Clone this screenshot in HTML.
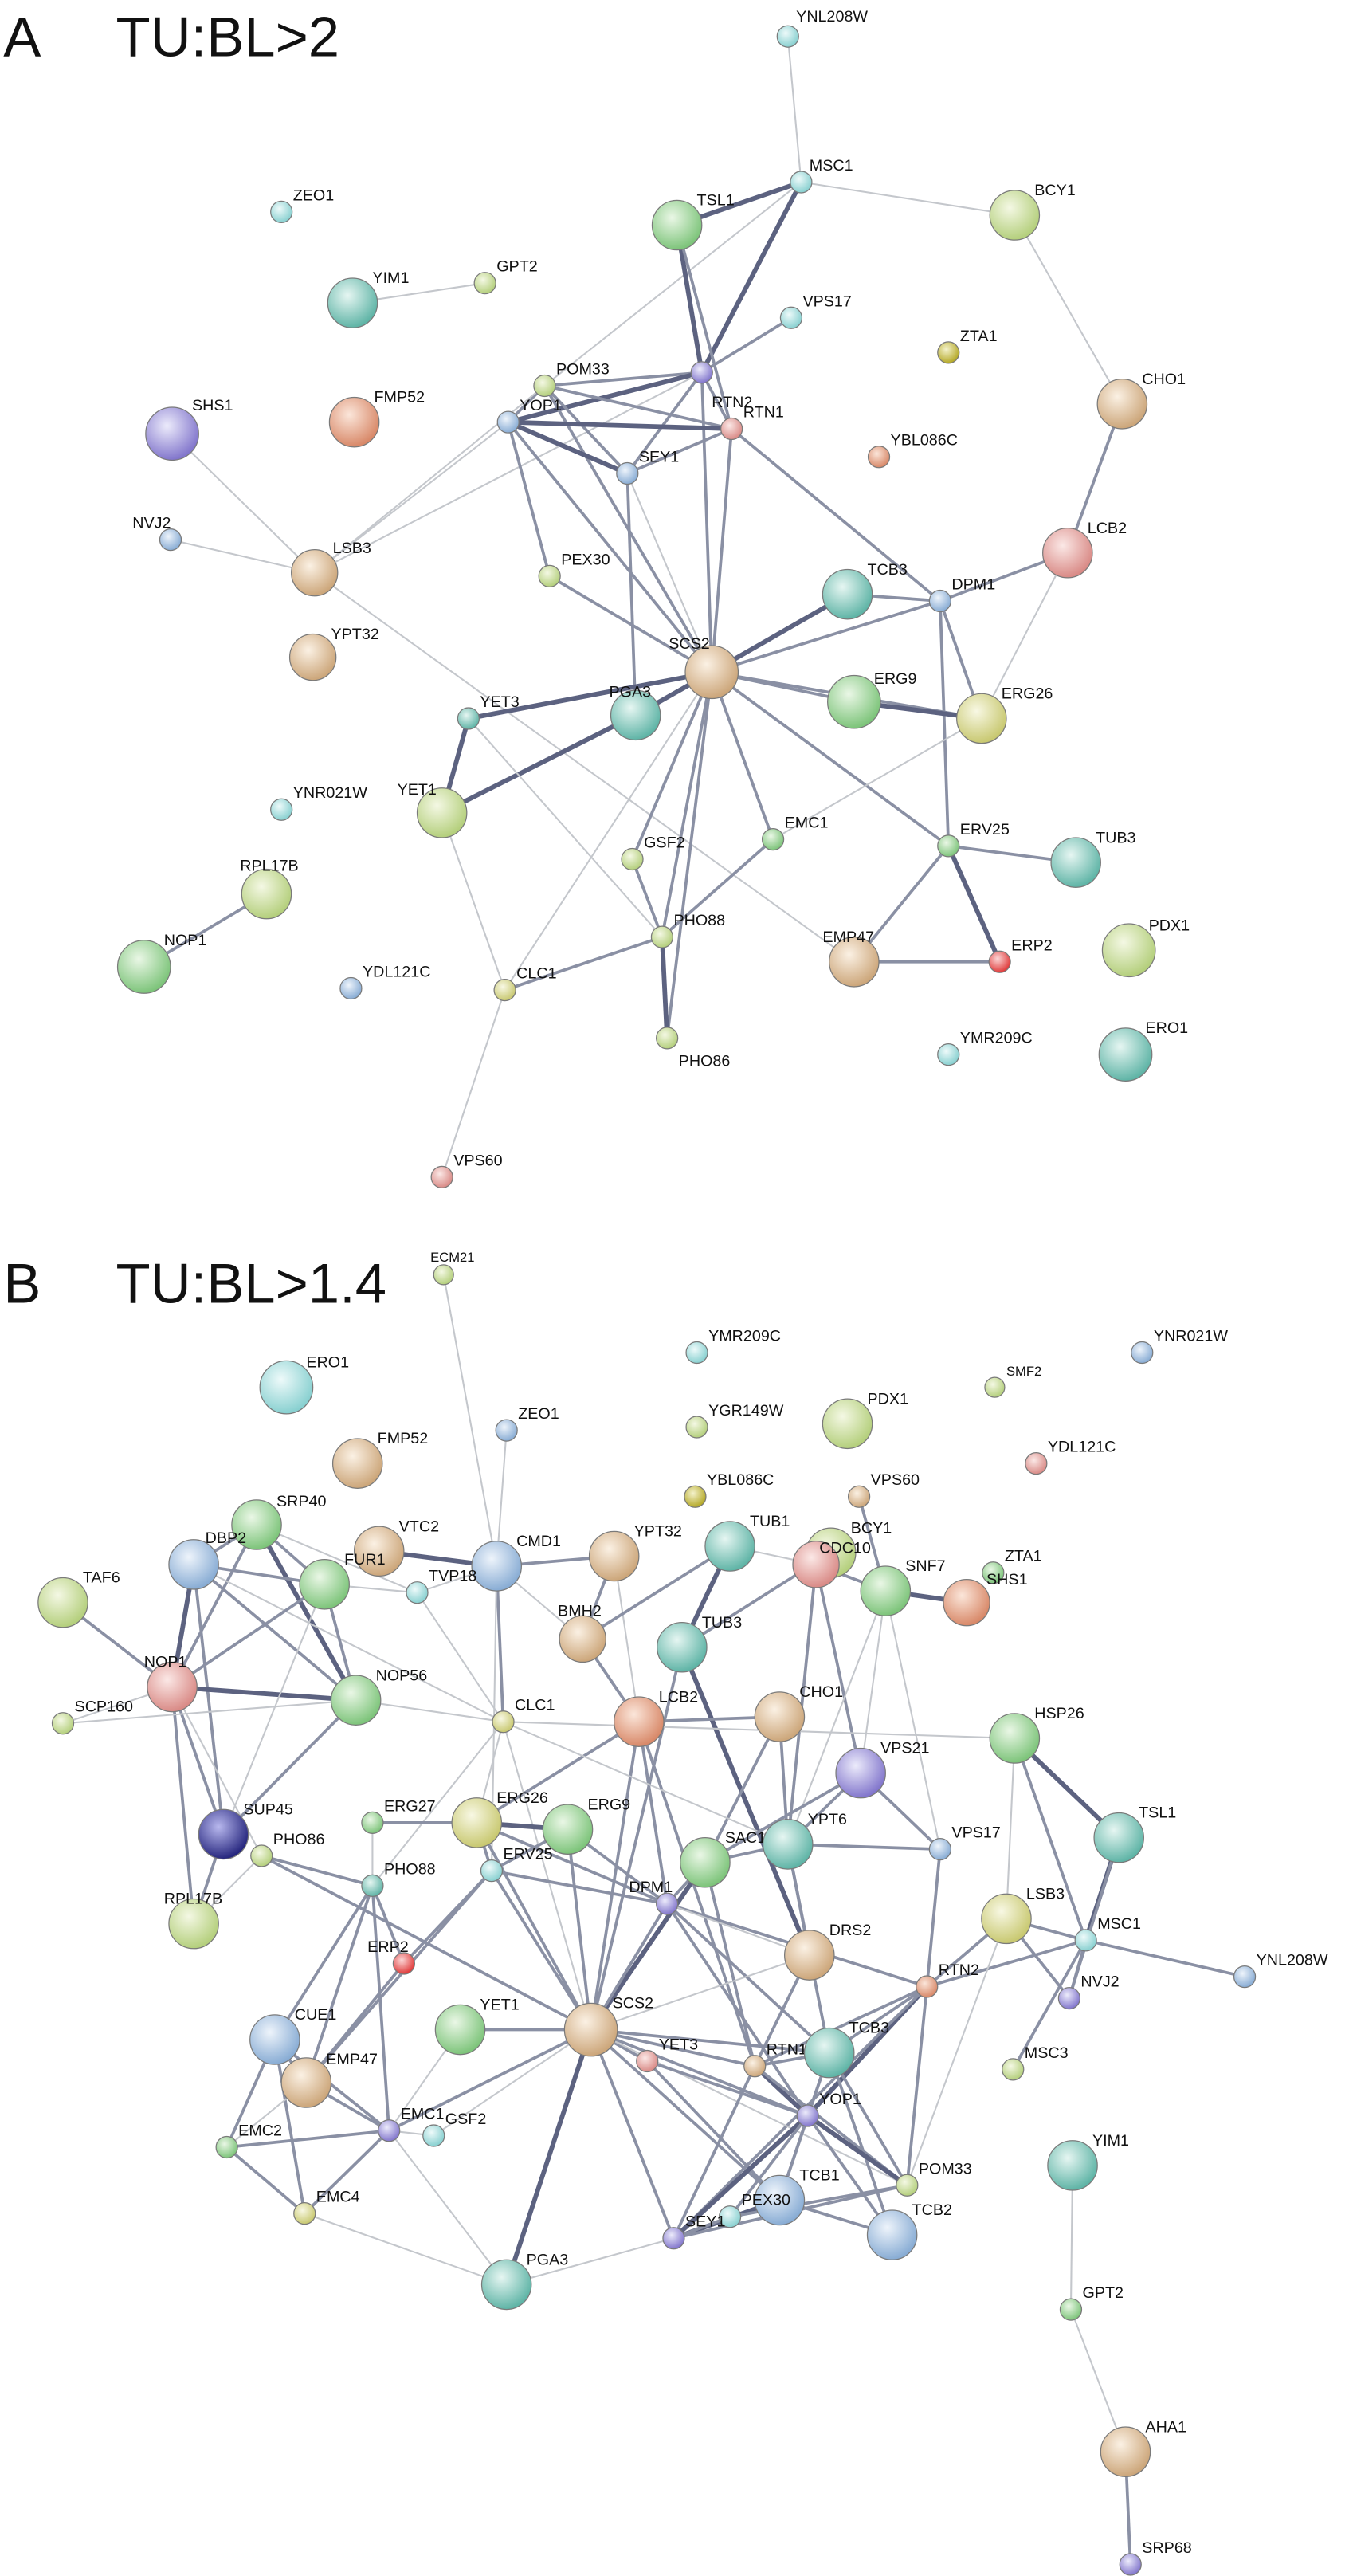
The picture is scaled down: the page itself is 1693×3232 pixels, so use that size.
<!DOCTYPE html>
<html><head><meta charset="utf-8">
<style>
html,body{margin:0;padding:0;background:#fff;}
svg{display:block;}
text{font-family:"Liberation Sans",Arial,sans-serif;fill:#111;}
.l{font-size:9.5px;}
.T{font-size:34px;}
.t{stroke:#c4c7cc;stroke-width:1;fill:none;}
.m{stroke:#8a90a4;stroke-width:1.8;fill:none;}
.k{stroke:#5c6280;stroke-width:2.8;fill:none;}
circle{stroke:#7a7a7a;stroke-width:0.6;}
</style></head><body>
<svg width="1693" height="3232" viewBox="0 0 815 1556" xmlns="http://www.w3.org/2000/svg">
<defs>
<radialGradient id="G" cx="40%" cy="35%" r="65%"><stop offset="0" stop-color="#eaf7e6"/><stop offset="1" stop-color="#7dc47a"/></radialGradient>
<radialGradient id="L" cx="40%" cy="35%" r="65%"><stop offset="0" stop-color="#f4f8e4"/><stop offset="1" stop-color="#b4cf7c"/></radialGradient>
<radialGradient id="B" cx="40%" cy="35%" r="65%"><stop offset="0" stop-color="#eef4fb"/><stop offset="1" stop-color="#88acd4"/></radialGradient>
<radialGradient id="E" cx="40%" cy="35%" r="65%"><stop offset="0" stop-color="#e6f6f2"/><stop offset="1" stop-color="#5fb4a6"/></radialGradient>
<radialGradient id="N" cx="40%" cy="35%" r="65%"><stop offset="0" stop-color="#fbf1e4"/><stop offset="1" stop-color="#cca67a"/></radialGradient>
<radialGradient id="P" cx="40%" cy="35%" r="65%"><stop offset="0" stop-color="#fbe8e6"/><stop offset="1" stop-color="#d98a86"/></radialGradient>
<radialGradient id="U" cx="40%" cy="35%" r="65%"><stop offset="0" stop-color="#ecebfb"/><stop offset="1" stop-color="#8276cc"/></radialGradient>
<radialGradient id="R" cx="40%" cy="35%" r="65%"><stop offset="0" stop-color="#fbd6d6"/><stop offset="1" stop-color="#e03a3a"/></radialGradient>
<radialGradient id="Y" cx="40%" cy="35%" r="65%"><stop offset="0" stop-color="#f8f8e4"/><stop offset="1" stop-color="#c8c870"/></radialGradient>
<radialGradient id="C" cx="40%" cy="35%" r="65%"><stop offset="0" stop-color="#eefafa"/><stop offset="1" stop-color="#88d0d0"/></radialGradient>
<radialGradient id="O" cx="40%" cy="35%" r="65%"><stop offset="0" stop-color="#f4f2cc"/><stop offset="1" stop-color="#b4a826"/></radialGradient>
<radialGradient id="D" cx="40%" cy="35%" r="65%"><stop offset="0" stop-color="#b8b8ee"/><stop offset="1" stop-color="#26267e"/></radialGradient>
<radialGradient id="S" cx="40%" cy="35%" r="65%"><stop offset="0" stop-color="#fbe6da"/><stop offset="1" stop-color="#d88868"/></radialGradient>
</defs>

<text class="T" x="2" y="34">A</text><text class="T" x="70" y="34">TU:BL&gt;2</text>
<text class="T" x="2" y="787">B</text><text class="T" x="70" y="787">TU:BL&gt;1.4</text>

<!-- Panel A edges -->
<g>
<path class="t" d="M476,22L484,110"/>
<path class="k" d="M484,110L409,136"/><path class="k" d="M484,110L424,225"/>
<path class="t" d="M484,110L613,130"/><path class="t" d="M484,110L329,233"/>
<path class="k" d="M409,136L424,225"/><path class="m" d="M409,136L442,259"/>
<path class="t" d="M613,130L678,244"/><path class="m" d="M678,244L645,334"/>
<path class="m" d="M645,334L568,363"/><path class="t" d="M645,334L593,434"/>
<path class="m" d="M478,192L424,225"/><path class="t" d="M213,183L293,171"/>
<path class="m" d="M424,225L329,233"/><path class="k" d="M424,225L307,255"/><path class="m" d="M424,225L379,286"/>
<path class="m" d="M424,225L442,259"/><path class="m" d="M424,225L430,406"/><path class="t" d="M424,225L190,346"/>
<path class="m" d="M329,233L307,255"/><path class="m" d="M329,233L442,259"/><path class="m" d="M329,233L379,286"/>
<path class="t" d="M329,233L190,346"/><path class="m" d="M329,233L430,406"/>
<path class="k" d="M307,255L442,259"/><path class="k" d="M307,255L379,286"/><path class="m" d="M307,255L332,348"/>
<path class="t" d="M307,255L190,346"/><path class="m" d="M307,255L430,406"/>
<path class="m" d="M442,259L379,286"/><path class="m" d="M442,259L430,406"/><path class="m" d="M442,259L568,363"/>
<path class="t" d="M379,286L430,406"/><path class="m" d="M379,286L384,432"/>
<path class="t" d="M104,262L190,346"/><path class="t" d="M103,326L190,346"/>
<path class="t" d="M190,346L516,581"/>
<path class="m" d="M332,348L430,406"/>
<path class="k" d="M430,406L512,359"/><path class="m" d="M430,406L568,363"/><path class="m" d="M430,406L516,424"/>
<path class="m" d="M430,406L593,434"/><path class="k" d="M430,406L384,432"/><path class="k" d="M430,406L283,434"/>
<path class="m" d="M430,406L467,507"/><path class="m" d="M430,406L573,511"/><path class="m" d="M430,406L382,519"/>
<path class="m" d="M430,406L400,566"/><path class="m" d="M430,406L403,627"/><path class="t" d="M430,406L305,598"/>
<path class="m" d="M512,359L568,363"/><path class="m" d="M568,363L593,434"/><path class="m" d="M568,363L573,511"/>
<path class="k" d="M516,424L593,434"/><path class="t" d="M593,434L467,507"/>
<path class="k" d="M283,434L267,491"/><path class="k" d="M267,491L384,432"/><path class="t" d="M267,491L305,598"/>
<path class="t" d="M283,434L400,566"/>
<path class="m" d="M573,511L650,521"/><path class="k" d="M573,511L604,581"/><path class="m" d="M573,511L516,581"/>
<path class="m" d="M516,581L604,581"/><path class="m" d="M382,519L400,566"/><path class="m" d="M400,566L305,598"/>
<path class="k" d="M400,566L403,627"/><path class="m" d="M467,507L400,566"/>
<path class="t" d="M305,598L267,711"/><path class="m" d="M161,540L87,584"/>
</g>

<!-- Panel A nodes -->
<g>
<circle cx="476" cy="22" r="6.5" fill="url(#C)"/><text class="l" x="481" y="13">YNL208W</text>
<circle cx="484" cy="110" r="6.5" fill="url(#C)"/><text class="l" x="489" y="103">MSC1</text>
<circle cx="409" cy="136" r="15" fill="url(#G)"/><text class="l" x="421" y="124">TSL1</text>
<circle cx="613" cy="130" r="15" fill="url(#L)"/><text class="l" x="625" y="118">BCY1</text>
<circle cx="170" cy="128" r="6.5" fill="url(#C)"/><text class="l" x="177" y="121">ZEO1</text>
<circle cx="213" cy="183" r="15" fill="url(#E)"/><text class="l" x="225" y="171">YIM1</text>
<circle cx="293" cy="171" r="6.5" fill="url(#L)"/><text class="l" x="300" y="164">GPT2</text>
<circle cx="478" cy="192" r="6.5" fill="url(#C)"/><text class="l" x="485" y="185">VPS17</text>
<circle cx="573" cy="213" r="6.5" fill="url(#O)"/><text class="l" x="580" y="206">ZTA1</text>
<circle cx="424" cy="225" r="6.5" fill="url(#U)"/><text class="l" x="430" y="246">RTN2</text>
<circle cx="329" cy="233" r="6.5" fill="url(#L)"/><text class="l" x="336" y="226">POM33</text>
<circle cx="678" cy="244" r="15" fill="url(#N)"/><text class="l" x="690" y="232">CHO1</text>
<circle cx="104" cy="262" r="16" fill="url(#U)"/><text class="l" x="116" y="248">SHS1</text>
<circle cx="214" cy="255" r="15" fill="url(#S)"/><text class="l" x="226" y="243">FMP52</text>
<circle cx="307" cy="255" r="6.5" fill="url(#B)"/><text class="l" x="314" y="248">YOP1</text>
<circle cx="442" cy="259" r="6.5" fill="url(#P)"/><text class="l" x="449" y="252">RTN1</text>
<circle cx="531" cy="276" r="6.5" fill="url(#S)"/><text class="l" x="538" y="269">YBL086C</text>
<circle cx="379" cy="286" r="6.5" fill="url(#B)"/><text class="l" x="386" y="279">SEY1</text>
<circle cx="645" cy="334" r="15" fill="url(#P)"/><text class="l" x="657" y="322">LCB2</text>
<circle cx="103" cy="326" r="6.5" fill="url(#B)"/><text class="l" x="80" y="319">NVJ2</text>
<circle cx="190" cy="346" r="14" fill="url(#N)"/><text class="l" x="201" y="334">LSB3</text>
<circle cx="332" cy="348" r="6.5" fill="url(#L)"/><text class="l" x="339" y="341">PEX30</text>
<circle cx="512" cy="359" r="15" fill="url(#E)"/><text class="l" x="524" y="347">TCB3</text>
<circle cx="568" cy="363" r="6.5" fill="url(#B)"/><text class="l" x="575" y="356">DPM1</text>
<circle cx="430" cy="406" r="16" fill="url(#N)"/><text class="l" x="404" y="392">SCS2</text>
<circle cx="189" cy="397" r="14" fill="url(#N)"/><text class="l" x="200" y="386">YPT32</text>
<circle cx="516" cy="424" r="16" fill="url(#G)"/><text class="l" x="528" y="413">ERG9</text>
<circle cx="593" cy="434" r="15" fill="url(#Y)"/><text class="l" x="605" y="422">ERG26</text>
<circle cx="283" cy="434" r="6.5" fill="url(#E)"/><text class="l" x="290" y="427">YET3</text>
<circle cx="384" cy="432" r="15" fill="url(#E)"/><text class="l" x="368" y="421">PGA3</text>
<circle cx="267" cy="491" r="15" fill="url(#L)"/><text class="l" x="240" y="480">YET1</text>
<circle cx="170" cy="489" r="6.5" fill="url(#C)"/><text class="l" x="177" y="482">YNR021W</text>
<circle cx="467" cy="507" r="6.5" fill="url(#G)"/><text class="l" x="474" y="500">EMC1</text>
<circle cx="573" cy="511" r="6.5" fill="url(#G)"/><text class="l" x="580" y="504">ERV25</text>
<circle cx="650" cy="521" r="15" fill="url(#E)"/><text class="l" x="662" y="509">TUB3</text>
<circle cx="382" cy="519" r="6.5" fill="url(#L)"/><text class="l" x="389" y="512">GSF2</text>
<circle cx="161" cy="540" r="15" fill="url(#L)"/><text class="l" x="145" y="526">RPL17B</text>
<circle cx="400" cy="566" r="6.5" fill="url(#L)"/><text class="l" x="407" y="559">PHO88</text>
<circle cx="516" cy="581" r="15" fill="url(#N)"/><text class="l" x="497" y="569">EMP47</text>
<circle cx="604" cy="581" r="6.5" fill="url(#R)"/><text class="l" x="611" y="574">ERP2</text>
<circle cx="682" cy="574" r="16" fill="url(#L)"/><text class="l" x="694" y="562">PDX1</text>
<circle cx="87" cy="584" r="16" fill="url(#G)"/><text class="l" x="99" y="571">NOP1</text>
<circle cx="212" cy="597" r="6.5" fill="url(#B)"/><text class="l" x="219" y="590">YDL121C</text>
<circle cx="305" cy="598" r="6.5" fill="url(#Y)"/><text class="l" x="312" y="591">CLC1</text>
<circle cx="403" cy="627" r="6.5" fill="url(#L)"/><text class="l" x="410" y="644">PHO86</text>
<circle cx="573" cy="637" r="6.5" fill="url(#C)"/><text class="l" x="580" y="630">YMR209C</text>
<circle cx="680" cy="637" r="16" fill="url(#E)"/><text class="l" x="692" y="624">ERO1</text>
<circle cx="267" cy="711" r="6.5" fill="url(#P)"/><text class="l" x="274" y="704">VPS60</text>
</g>

<!-- Panel B edges -->
<g>
<path class="t" d="M268,770L300,946"/><path class="t" d="M306,864L300,946"/>
<path class="m" d="M155,921L117,945"/><path class="m" d="M155,921L196,957"/><path class="m" d="M155,921L104,1019"/><path class="k" d="M155,921L215,1027"/><path class="t" d="M155,921L252,962"/>
<path class="m" d="M117,945L196,957"/><path class="k" d="M117,945L104,1019"/><path class="m" d="M117,945L215,1027"/><path class="m" d="M117,945L135,1108"/><path class="t" d="M117,945L304,1040"/>
<path class="m" d="M38,968L104,1019"/>
<path class="m" d="M104,1019L196,957"/><path class="k" d="M104,1019L215,1027"/><path class="m" d="M104,1019L135,1108"/><path class="m" d="M104,1019L117,1162"/><path class="t" d="M104,1019L38,1041"/><path class="t" d="M104,1019L158,1121"/>
<path class="t" d="M38,1041L215,1027"/><path class="m" d="M196,957L215,1027"/><path class="t" d="M196,957L252,962"/><path class="t" d="M196,957L135,1108"/>
<path class="k" d="M229,937L300,946"/><path class="t" d="M300,946L252,962"/><path class="m" d="M300,946L371,940"/><path class="m" d="M300,946L304,1040"/><path class="t" d="M300,946L352,990"/><path class="t" d="M300,946L297,1130"/>
<path class="m" d="M371,940L352,990"/><path class="t" d="M371,940L386,1040"/>
<path class="k" d="M441,934L412,995"/><path class="t" d="M441,934L493,945"/><path class="m" d="M441,934L352,990"/>
<path class="m" d="M502,938L412,995"/><path class="m" d="M493,945L535,961"/><path class="m" d="M493,945L520,1071"/><path class="m" d="M493,945L476,1114"/>
<path class="k" d="M535,961L584,968"/><path class="m" d="M535,961L519,904"/><path class="t" d="M535,961L476,1114"/><path class="t" d="M535,961L520,1071"/><path class="t" d="M535,961L568,1117"/>
<path class="m" d="M352,990L386,1040"/><path class="k" d="M412,995L489,1181"/><path class="m" d="M412,995L357,1226"/>
<path class="m" d="M386,1040L471,1037"/><path class="m" d="M386,1040L288,1101"/><path class="m" d="M386,1040L403,1150"/><path class="m" d="M386,1040L357,1226"/><path class="m" d="M386,1040L456,1248"/>
<path class="m" d="M471,1037L426,1125"/><path class="m" d="M471,1037L476,1114"/>
<path class="t" d="M304,1040L215,1027"/><path class="t" d="M304,1040L252,962"/><path class="t" d="M304,1040L288,1101"/><path class="t" d="M304,1040L357,1226"/><path class="t" d="M304,1040L225,1139"/><path class="t" d="M304,1040L613,1050"/><path class="t" d="M304,1040L476,1114"/>
<path class="k" d="M613,1050L676,1110"/><path class="m" d="M613,1050L656,1172"/><path class="t" d="M613,1050L608,1159"/>
<path class="k" d="M676,1110L656,1172"/><path class="m" d="M676,1110L646,1207"/>
<path class="m" d="M656,1172L752,1194"/><path class="m" d="M656,1172L608,1159"/><path class="m" d="M656,1172L560,1200"/><path class="m" d="M656,1172L646,1207"/><path class="m" d="M656,1172L612,1250"/>
<path class="m" d="M520,1071L476,1114"/><path class="m" d="M520,1071L568,1117"/><path class="m" d="M520,1071L426,1125"/>
<path class="m" d="M135,1108L117,1162"/><path class="m" d="M135,1108L215,1027"/>
<path class="m" d="M225,1101L288,1101"/><path class="t" d="M225,1101L225,1139"/>
<path class="k" d="M288,1101L343,1105"/><path class="m" d="M288,1101L357,1226"/><path class="m" d="M288,1101L403,1150"/><path class="m" d="M288,1101L297,1130"/>
<path class="m" d="M343,1105L357,1226"/><path class="m" d="M343,1105L403,1150"/><path class="m" d="M343,1105L297,1130"/>
<path class="m" d="M426,1125L403,1150"/><path class="k" d="M426,1125L357,1226"/><path class="m" d="M426,1125L476,1114"/><path class="m" d="M426,1125L456,1248"/>
<path class="m" d="M476,1114L489,1181"/><path class="m" d="M476,1114L501,1240"/><path class="m" d="M568,1117L476,1114"/><path class="m" d="M568,1117L560,1200"/>
<path class="m" d="M158,1121L225,1139"/><path class="m" d="M158,1121L357,1226"/><path class="t" d="M158,1121L117,1162"/>
<path class="m" d="M297,1130L244,1186"/><path class="m" d="M297,1130L357,1226"/><path class="m" d="M297,1130L403,1150"/><path class="m" d="M297,1130L185,1258"/>
<path class="m" d="M225,1139L244,1186"/><path class="m" d="M225,1139L185,1258"/><path class="m" d="M225,1139L166,1232"/><path class="m" d="M225,1139L235,1287"/>
<path class="m" d="M403,1150L357,1226"/><path class="m" d="M403,1150L560,1200"/><path class="t" d="M403,1150L489,1181"/><path class="m" d="M403,1150L501,1240"/><path class="m" d="M403,1150L488,1278"/>
<path class="m" d="M608,1159L646,1207"/><path class="m" d="M608,1159L560,1200"/><path class="t" d="M608,1159L548,1320"/>
<path class="t" d="M489,1181L357,1226"/><path class="m" d="M489,1181L456,1248"/><path class="m" d="M244,1186L185,1258"/>
<path class="k" d="M560,1200L488,1278"/><path class="m" d="M560,1200L456,1248"/><path class="m" d="M560,1200L501,1240"/><path class="m" d="M560,1200L407,1352"/><path class="m" d="M560,1200L548,1320"/>
<path class="m" d="M166,1232L137,1297"/><path class="m" d="M166,1232L235,1287"/><path class="m" d="M166,1232L184,1337"/><path class="m" d="M166,1232L185,1258"/>
<path class="m" d="M278,1226L357,1226"/><path class="t" d="M278,1226L235,1287"/>
<path class="m" d="M357,1226L391,1245"/><path class="m" d="M357,1226L456,1248"/><path class="m" d="M357,1226L501,1240"/><path class="m" d="M357,1226L488,1278"/><path class="k" d="M357,1226L306,1380"/><path class="m" d="M357,1226L407,1352"/><path class="m" d="M357,1226L471,1329"/><path class="t" d="M357,1226L548,1320"/><path class="m" d="M357,1226L235,1287"/><path class="t" d="M357,1226L262,1290"/>
<path class="m" d="M391,1245L488,1278"/><path class="m" d="M391,1245L471,1329"/>
<path class="k" d="M456,1248L488,1278"/><path class="m" d="M456,1248L501,1240"/><path class="m" d="M456,1248L407,1352"/><path class="m" d="M456,1248L548,1320"/>
<path class="m" d="M501,1240L471,1329"/><path class="m" d="M501,1240L539,1350"/><path class="m" d="M501,1240L488,1278"/><path class="m" d="M501,1240L548,1320"/>
<path class="k" d="M488,1278L407,1352"/><path class="m" d="M488,1278L441,1339"/><path class="k" d="M488,1278L548,1320"/><path class="m" d="M488,1278L471,1329"/><path class="m" d="M488,1278L539,1350"/>
<path class="m" d="M471,1329L539,1350"/><path class="m" d="M471,1329L441,1339"/><path class="k" d="M471,1329L407,1352"/>
<path class="m" d="M441,1339L407,1352"/><path class="m" d="M441,1339L548,1320"/><path class="t" d="M407,1352L306,1380"/><path class="m" d="M407,1352L548,1320"/>
<path class="m" d="M137,1297L235,1287"/><path class="m" d="M137,1297L184,1337"/><path class="t" d="M137,1297L185,1258"/>
<path class="m" d="M235,1287L184,1337"/><path class="t" d="M235,1287L262,1290"/><path class="m" d="M235,1287L185,1258"/>
<path class="t" d="M184,1337L306,1380"/><path class="t" d="M306,1380L235,1287"/>
<path class="t" d="M648,1308L647,1395"/><path class="t" d="M647,1395L680,1481"/><path class="m" d="M680,1481L683,1549"/>
</g>

<!-- Panel B nodes -->
<g>
<circle cx="268" cy="770" r="6" fill="url(#L)"/><text class="l" x="260" y="762" style="font-size:8px">ECM21</text>
<circle cx="421" cy="817" r="6.5" fill="url(#C)"/><text class="l" x="428" y="810">YMR209C</text>
<circle cx="690" cy="817" r="6.5" fill="url(#B)"/><text class="l" x="697" y="810">YNR021W</text>
<circle cx="173" cy="838" r="16" fill="url(#C)"/><text class="l" x="185" y="826">ERO1</text>
<circle cx="601" cy="838" r="6" fill="url(#L)"/><text class="l" x="608" y="831" style="font-size:8px">SMF2</text>
<circle cx="306" cy="864" r="6.5" fill="url(#B)"/><text class="l" x="313" y="857">ZEO1</text>
<circle cx="421" cy="862" r="6.5" fill="url(#L)"/><text class="l" x="428" y="855">YGR149W</text>
<circle cx="512" cy="860" r="15" fill="url(#L)"/><text class="l" x="524" y="848">PDX1</text>
<circle cx="626" cy="884" r="6.5" fill="url(#P)"/><text class="l" x="633" y="877">YDL121C</text>
<circle cx="216" cy="884" r="15" fill="url(#N)"/><text class="l" x="228" y="872">FMP52</text>
<circle cx="420" cy="904" r="6.5" fill="url(#O)"/><text class="l" x="427" y="897">YBL086C</text>
<circle cx="519" cy="904" r="6.5" fill="url(#N)"/><text class="l" x="526" y="897">VPS60</text>
<circle cx="155" cy="921" r="15" fill="url(#G)"/><text class="l" x="167" y="910">SRP40</text>
<circle cx="229" cy="937" r="15" fill="url(#N)"/><text class="l" x="241" y="925">VTC2</text>
<circle cx="300" cy="946" r="15" fill="url(#B)"/><text class="l" x="312" y="934">CMD1</text>
<circle cx="371" cy="940" r="15" fill="url(#N)"/><text class="l" x="383" y="928">YPT32</text>
<circle cx="441" cy="934" r="15" fill="url(#E)"/><text class="l" x="453" y="922">TUB1</text>
<circle cx="502" cy="938" r="15" fill="url(#L)"/><text class="l" x="514" y="926">BCY1</text>
<circle cx="493" cy="945" r="14" fill="url(#P)"/><text class="l" x="495" y="938">CDC10</text>
<circle cx="600" cy="950" r="6.5" fill="url(#G)"/><text class="l" x="607" y="943">ZTA1</text>
<circle cx="38" cy="968" r="15" fill="url(#L)"/><text class="l" x="50" y="956">TAF6</text>
<circle cx="117" cy="945" r="15" fill="url(#B)"/><text class="l" x="124" y="932">DBP2</text>
<circle cx="196" cy="957" r="15" fill="url(#G)"/><text class="l" x="208" y="945">FUR1</text>
<circle cx="252" cy="962" r="6.5" fill="url(#C)"/><text class="l" x="259" y="955">TVP18</text>
<circle cx="352" cy="990" r="14" fill="url(#N)"/><text class="l" x="337" y="976">BMH2</text>
<circle cx="412" cy="995" r="15" fill="url(#E)"/><text class="l" x="424" y="983">TUB3</text>
<circle cx="535" cy="961" r="15" fill="url(#G)"/><text class="l" x="547" y="949">SNF7</text>
<circle cx="584" cy="968" r="14" fill="url(#S)"/><text class="l" x="596" y="957">SHS1</text>
<circle cx="104" cy="1019" r="15" fill="url(#P)"/><text class="l" x="87" y="1007">NOP1</text>
<circle cx="38" cy="1041" r="6.5" fill="url(#L)"/><text class="l" x="45" y="1034">SCP160</text>
<circle cx="215" cy="1027" r="15" fill="url(#G)"/><text class="l" x="227" y="1015">NOP56</text>
<circle cx="304" cy="1040" r="6.5" fill="url(#Y)"/><text class="l" x="311" y="1033">CLC1</text>
<circle cx="386" cy="1040" r="15" fill="url(#S)"/><text class="l" x="398" y="1028">LCB2</text>
<circle cx="471" cy="1037" r="15" fill="url(#N)"/><text class="l" x="483" y="1025">CHO1</text>
<circle cx="613" cy="1050" r="15" fill="url(#G)"/><text class="l" x="625" y="1038">HSP26</text>
<circle cx="520" cy="1071" r="15" fill="url(#U)"/><text class="l" x="532" y="1059">VPS21</text>
<circle cx="135" cy="1108" r="15" fill="url(#D)"/><text class="l" x="147" y="1096">SUP45</text>
<circle cx="225" cy="1101" r="6.5" fill="url(#G)"/><text class="l" x="232" y="1094">ERG27</text>
<circle cx="288" cy="1101" r="15" fill="url(#Y)"/><text class="l" x="300" y="1089">ERG26</text>
<circle cx="343" cy="1105" r="15" fill="url(#G)"/><text class="l" x="355" y="1093">ERG9</text>
<circle cx="426" cy="1125" r="15" fill="url(#G)"/><text class="l" x="438" y="1113">SAC1</text>
<circle cx="476" cy="1114" r="15" fill="url(#E)"/><text class="l" x="488" y="1102">YPT6</text>
<circle cx="568" cy="1117" r="6.5" fill="url(#B)"/><text class="l" x="575" y="1110">VPS17</text>
<circle cx="676" cy="1110" r="15" fill="url(#E)"/><text class="l" x="688" y="1098">TSL1</text>
<circle cx="158" cy="1121" r="6.5" fill="url(#L)"/><text class="l" x="165" y="1114">PHO86</text>
<circle cx="297" cy="1130" r="6.5" fill="url(#C)"/><text class="l" x="304" y="1123">ERV25</text>
<circle cx="225" cy="1139" r="6.5" fill="url(#E)"/><text class="l" x="232" y="1132">PHO88</text>
<circle cx="403" cy="1150" r="6.5" fill="url(#U)"/><text class="l" x="380" y="1143">DPM1</text>
<circle cx="608" cy="1159" r="15" fill="url(#Y)"/><text class="l" x="620" y="1147">LSB3</text>
<circle cx="117" cy="1162" r="15" fill="url(#L)"/><text class="l" x="99" y="1150">RPL17B</text>
<circle cx="656" cy="1172" r="6.5" fill="url(#C)"/><text class="l" x="663" y="1165">MSC1</text>
<circle cx="752" cy="1194" r="6.5" fill="url(#B)"/><text class="l" x="759" y="1187">YNL208W</text>
<circle cx="489" cy="1181" r="15" fill="url(#N)"/><text class="l" x="501" y="1169">DRS2</text>
<circle cx="244" cy="1186" r="6.5" fill="url(#R)"/><text class="l" x="222" y="1179">ERP2</text>
<circle cx="646" cy="1207" r="6.5" fill="url(#U)"/><text class="l" x="653" y="1200">NVJ2</text>
<circle cx="560" cy="1200" r="6.5" fill="url(#S)"/><text class="l" x="567" y="1193">RTN2</text>
<circle cx="166" cy="1232" r="15" fill="url(#B)"/><text class="l" x="178" y="1220">CUE1</text>
<circle cx="278" cy="1226" r="15" fill="url(#G)"/><text class="l" x="290" y="1214">YET1</text>
<circle cx="357" cy="1226" r="16" fill="url(#N)"/><text class="l" x="370" y="1213">SCS2</text>
<circle cx="391" cy="1245" r="6.5" fill="url(#P)"/><text class="l" x="398" y="1238">YET3</text>
<circle cx="456" cy="1248" r="6.5" fill="url(#N)"/><text class="l" x="463" y="1241">RTN1</text>
<circle cx="501" cy="1240" r="15" fill="url(#E)"/><text class="l" x="513" y="1228">TCB3</text>
<circle cx="612" cy="1250" r="6.5" fill="url(#L)"/><text class="l" x="619" y="1243">MSC3</text>
<circle cx="185" cy="1258" r="15" fill="url(#N)"/><text class="l" x="197" y="1247">EMP47</text>
<circle cx="488" cy="1278" r="6.5" fill="url(#U)"/><text class="l" x="495" y="1271">YOP1</text>
<circle cx="235" cy="1287" r="6.5" fill="url(#U)"/><text class="l" x="242" y="1280">EMC1</text>
<circle cx="262" cy="1290" r="6.5" fill="url(#C)"/><text class="l" x="269" y="1283">GSF2</text>
<circle cx="137" cy="1297" r="6.5" fill="url(#G)"/><text class="l" x="144" y="1290">EMC2</text>
<circle cx="548" cy="1320" r="6.5" fill="url(#L)"/><text class="l" x="555" y="1313">POM33</text>
<circle cx="471" cy="1329" r="15" fill="url(#B)"/><text class="l" x="483" y="1317">TCB1</text>
<circle cx="441" cy="1339" r="6.5" fill="url(#C)"/><text class="l" x="448" y="1332">PEX30</text>
<circle cx="539" cy="1350" r="15" fill="url(#B)"/><text class="l" x="551" y="1338">TCB2</text>
<circle cx="184" cy="1337" r="6.5" fill="url(#Y)"/><text class="l" x="191" y="1330">EMC4</text>
<circle cx="407" cy="1352" r="6.5" fill="url(#U)"/><text class="l" x="414" y="1345">SEY1</text>
<circle cx="306" cy="1380" r="15" fill="url(#E)"/><text class="l" x="318" y="1368">PGA3</text>
<circle cx="648" cy="1308" r="15" fill="url(#E)"/><text class="l" x="660" y="1296">YIM1</text>
<circle cx="647" cy="1395" r="6.5" fill="url(#G)"/><text class="l" x="654" y="1388">GPT2</text>
<circle cx="680" cy="1481" r="15" fill="url(#N)"/><text class="l" x="692" y="1469">AHA1</text>
<circle cx="683" cy="1549" r="6.5" fill="url(#U)"/><text class="l" x="690" y="1542">SRP68</text>
</g>
</svg>
</body></html>
